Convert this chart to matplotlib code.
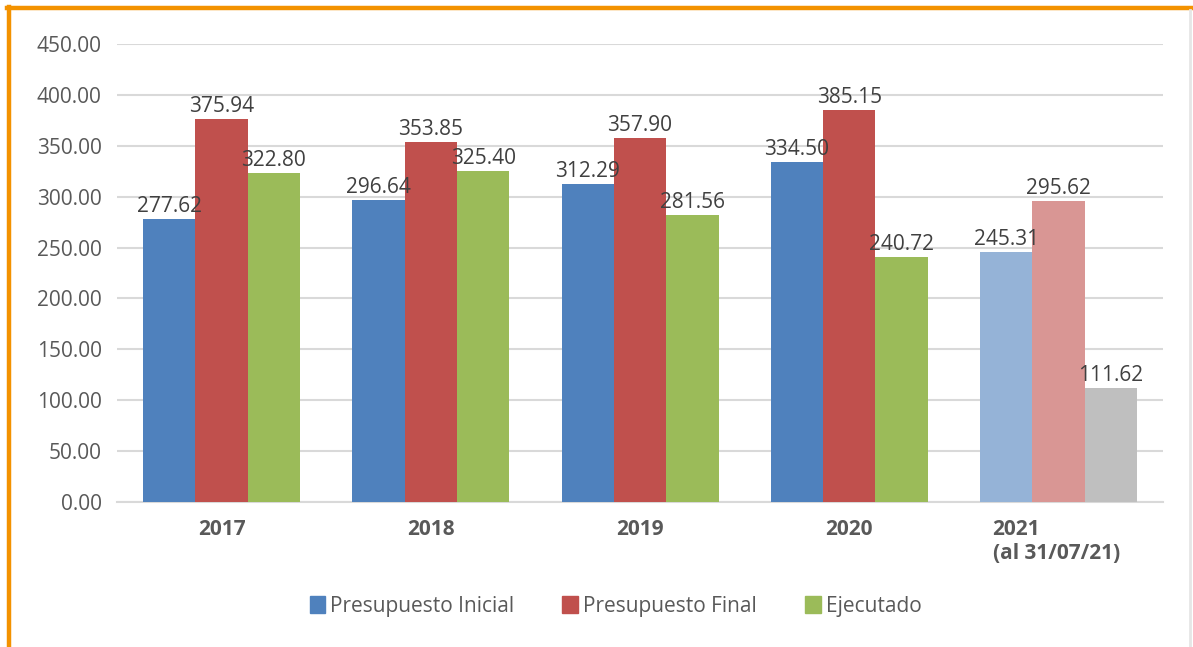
import numpy as np
import matplotlib.pyplot as plt
from matplotlib.lines import Line2D
from matplotlib.patches import Patch
from matplotlib.transforms import ScaledTranslation

# data
years = ["2017", "2018", "2019", "2020", "2021\n(al 31/07/21)"]
inicial = [277.62, 296.64, 312.29, 334.50, 245.31]
final = [375.94, 353.85, 357.90, 385.15, 295.62]
ejecutado = [322.80, 325.40, 281.56, 240.72, 111.62]

plt.rcParams['font.family'] = ['Open Sans', 'DejaVu Sans']

blue, red, green = "#4F81BD", "#C0504D", "#9BBB59"
blue_l, red_l, gray_l = "#95B3D7", "#D99694", "#BFBFBF"
txt = "#595959"

fig = plt.figure(figsize=(11.93, 6.47), dpi=100)
ax = fig.add_axes([0.098, 0.2241, 0.877, 0.7079])

x = np.arange(len(years))
w = 0.25
series = [(inicial, blue, blue_l, -w), (final, red, red_l, 0), (ejecutado, green, gray_l, w)]
for vals, c, c_last, off in series:
    cols = [c] * (len(vals) - 1) + [c_last]
    bars = ax.bar(x + off, vals, w, color=cols, zorder=3)
    for b, v in zip(bars, vals):
        ax.text(b.get_x() + b.get_width() / 2, v + 2, f"{v:.2f}",
                ha="center", va="bottom", fontsize=15, color="#404040", zorder=4)

ax.set_xlim(-0.5, 4.5)
ax.set_ylim(0, 450)
ax.set_yticks(np.arange(0, 451, 50))
ax.set_yticklabels([f"{v:.2f}" for v in np.arange(0, 451, 50)])
ax.set_xticks(x)
ax.set_xticklabels(years, fontweight="bold")

ax.tick_params(axis="y", length=0, pad=11, labelsize=15, labelcolor=txt)
ax.tick_params(axis="x", length=0, pad=12, labelsize=15, labelcolor=txt)

# last category label is left aligned in the original
last = ax.get_xticklabels()[-1]
last.set_horizontalalignment("left")
last.set_multialignment("left")
last.set_transform(last.get_transform() + ScaledTranslation(-0.66, 0, fig.dpi_scale_trans))

ax.grid(axis="y", color="#D9D9D9", linewidth=1.5, zorder=0)
for s in ["top", "right", "left"]:
    ax.spines[s].set_visible(False)
ax.spines["bottom"].set_color("#D9D9D9")
ax.spines["bottom"].set_linewidth(1.5)

handles = [Patch(color=blue), Patch(color=red), Patch(color=green)]
fig.legend(handles, ["Presupuesto Inicial", "Presupuesto Final", "Ejecutado"],
           loc="center", bbox_to_anchor=(0.516, 0.063), ncol=3, frameon=False,
           fontsize=15, labelcolor=txt, handlelength=0.75, handleheight=0.9,
           handletextpad=0.25, columnspacing=2.3)

# orange frame (top and left) and grey right edge
fig.add_artist(Line2D([0.006, 1.0], [0.987, 0.987], color="#F39200", lw=3.2,
                      transform=fig.transFigure))
fig.add_artist(Line2D([0.0075, 0.0075], [0.0, 0.989], color="#F39200", lw=3.2,
                      transform=fig.transFigure))
fig.add_artist(Line2D([0.9975, 0.9975], [0.0, 0.985], color="#E6E6E6", lw=2,
                      transform=fig.transFigure))

fig.savefig("out.png", dpi=100)
